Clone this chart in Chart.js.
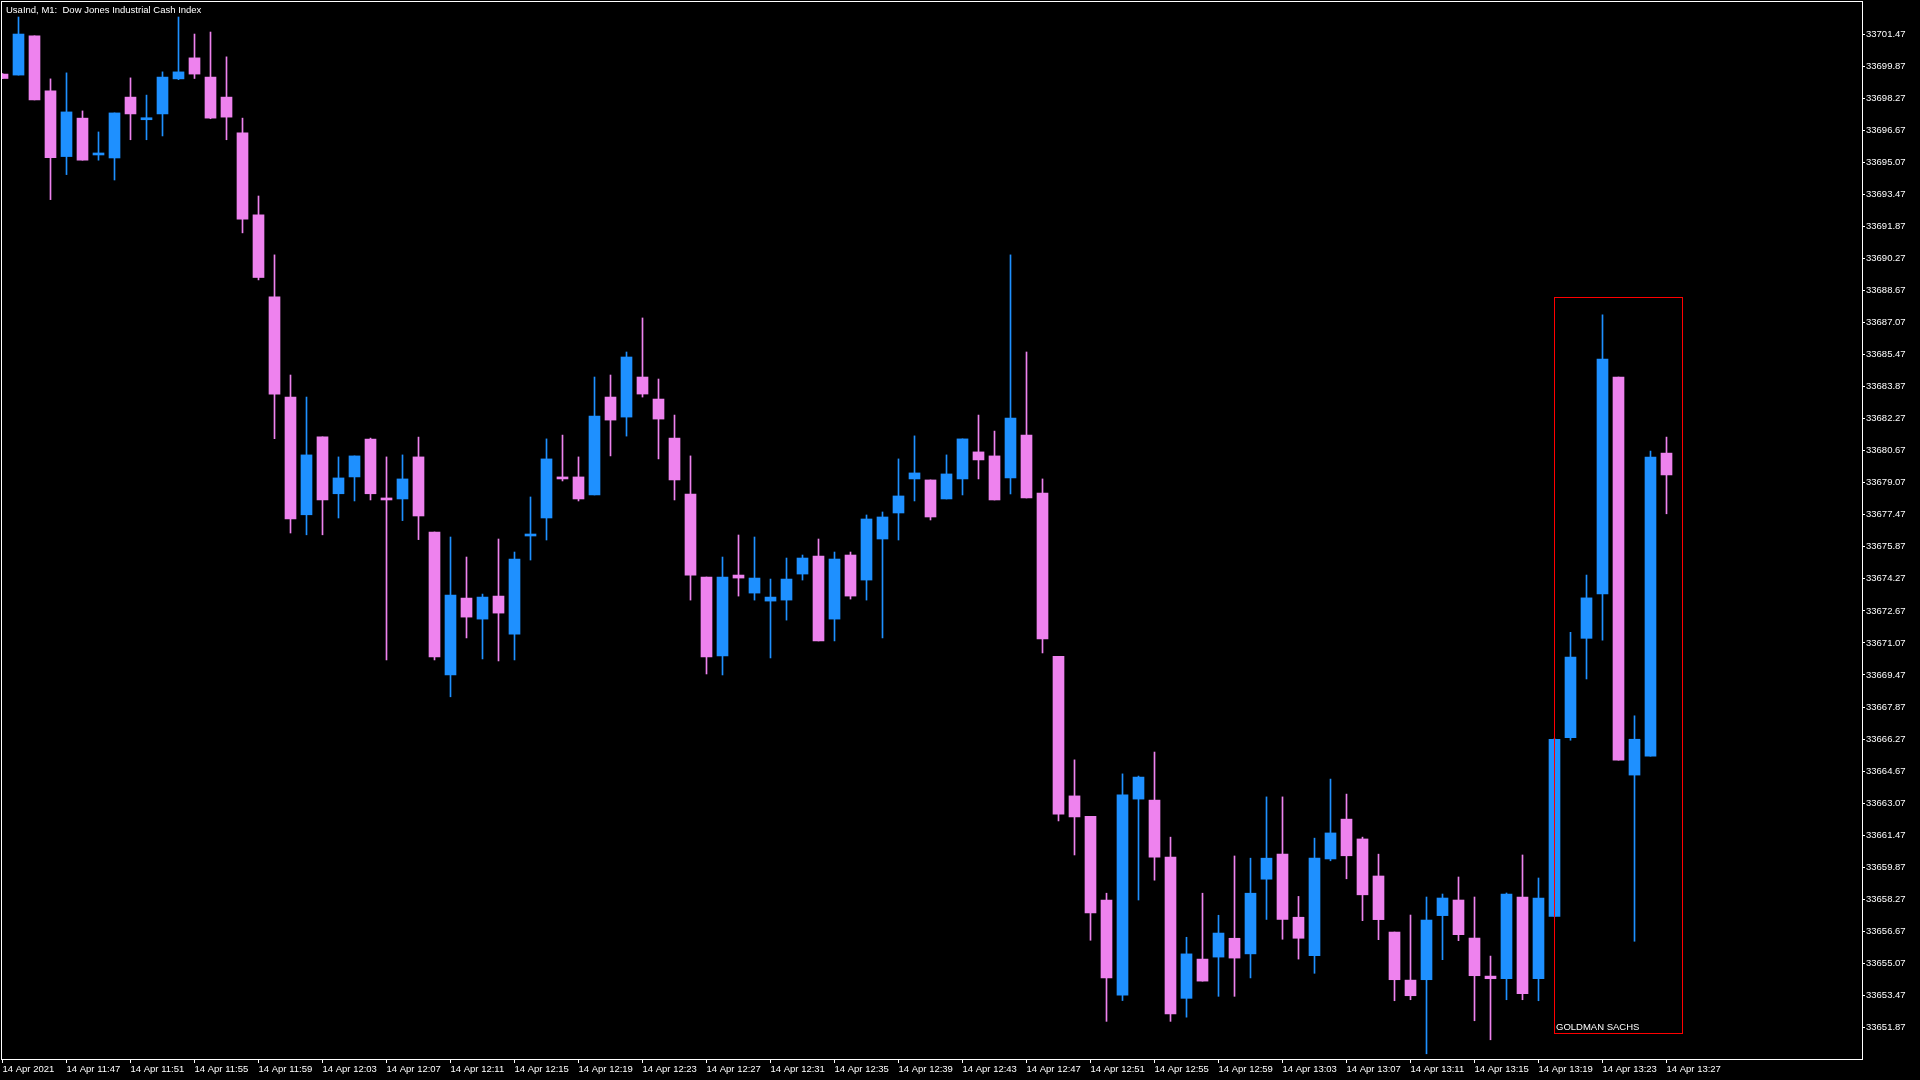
<!DOCTYPE html>
<html><head><meta charset="utf-8">
<script src="https://cdn.jsdelivr.net/npm/chart.js@4.4.1/dist/chart.umd.min.js"></script>
<style>html,body{margin:0;padding:0;background:#000;overflow:hidden}canvas{display:block}</style>
</head><body>
<canvas id="c" width="1920" height="1080"></canvas>
<script>
const opens = [33699.48,33699.43,33701.39,33698.64,33695.36,33697.28,33695.44,33695.29,33698.33,33697.20,
33697.49,33699.24,33700.29,33699.33,33698.33,33696.54,33692.45,33688.35,33683.35,33677.47,
33681.36,33678.52,33679.36,33681.25,33678.31,33678.26,33680.36,33676.61,33669.47,33673.31,
33672.26,33673.41,33671.51,33676.41,33677.31,33679.36,33679.36,33678.46,33683.35,33682.35,
33684.35,33683.25,33681.30,33678.51,33674.36,33670.42,33674.46,33673.56,33673.16,33673.21,
33674.51,33675.41,33672.26,33675.46,33674.21,33676.26,33677.56,33679.26,33679.21,33678.26,
33679.26,33680.61,33680.41,33679.31,33681.45,33678.56,33670.40,33663.43,33662.41,33658.23,
33653.48,33663.27,33663.22,33660.37,33653.32,33655.28,33655.38,33656.32,33655.54,33659.27,
33660.53,33657.37,33655.45,33660.28,33662.27,33661.28,33659.43,33656.63,33654.23,33654.25,
33657.45,33658.23,33656.33,33654.43,33654.30,33658.38,33654.30,33657.41,33666.34,33671.30,
33673.52,33684.35,33664.47,33665.41,33680.55];
const highs = [33699.50,33702.33,33701.39,33699.24,33699.54,33697.64,33696.59,33697.54,33699.29,33698.43,
33699.59,33702.33,33701.48,33701.58,33700.34,33697.28,33693.39,33690.45,33684.45,33683.35,
33681.36,33680.36,33680.41,33681.30,33680.36,33680.46,33681.35,33676.61,33676.36,33675.36,
33673.51,33676.26,33675.61,33678.36,33681.26,33681.45,33680.36,33684.35,33684.45,33685.60,
33687.30,33684.25,33682.45,33680.41,33674.36,33675.36,33676.46,33676.36,33674.26,33675.31,
33675.46,33676.26,33675.61,33675.61,33677.46,33677.61,33680.26,33681.41,33679.21,33680.46,
33681.26,33682.45,33681.65,33690.45,33685.60,33679.26,33670.40,33665.23,33662.41,33658.57,
33664.53,33664.42,33665.62,33661.37,33656.37,33658.57,33657.47,33660.43,33660.32,33663.38,
33663.38,33658.41,33661.32,33664.27,33663.52,33661.37,33660.52,33656.63,33657.48,33658.38,
33658.53,33659.38,33658.38,33655.43,33658.58,33660.48,33659.33,33666.30,33671.60,33674.46,
33687.46,33684.35,33667.43,33680.65,33681.35];
const lows = [33699.25,33699.43,33698.19,33693.21,33694.46,33695.18,33695.18,33694.19,33696.20,33696.20,
33696.39,33699.20,33699.26,33697.25,33696.20,33691.55,33689.20,33681.27,33676.56,33676.47,
33676.47,33677.31,33678.16,33678.21,33670.22,33677.18,33676.23,33670.22,33668.38,33671.32,
33670.27,33670.17,33670.22,33675.21,33676.21,33679.16,33678.16,33678.46,33680.41,33681.40,
33683.35,33680.26,33678.21,33673.21,33669.52,33669.47,33673.41,33673.21,33670.32,33672.21,
33674.21,33671.17,33671.17,33673.26,33673.21,33671.32,33676.21,33678.16,33677.21,33678.26,
33678.46,33679.26,33678.21,33678.51,33678.31,33670.57,33662.18,33660.48,33656.22,33652.17,
33653.21,33658.23,33659.22,33652.17,33652.38,33654.18,33653.42,33653.42,33654.34,33657.26,
33656.27,33655.28,33654.57,33660.19,33659.29,33657.20,33656.25,33653.20,33653.25,33650.55,
33655.25,33656.20,33652.20,33651.25,33653.25,33653.25,33653.20,33657.40,33666.21,33669.27,
33671.21,33665.22,33656.17,33665.41,33677.52];
const closes = [33699.26,33701.48,33698.19,33695.30,33697.59,33695.18,33695.54,33697.54,33697.49,33697.28,
33699.33,33699.59,33699.48,33697.28,33697.33,33692.24,33689.32,33683.50,33677.26,33680.46,
33678.21,33679.31,33680.41,33678.52,33678.21,33679.26,33677.41,33670.37,33673.46,33672.36,
33673.36,33672.56,33675.26,33676.51,33680.26,33679.26,33678.26,33682.40,33682.20,33685.35,
33683.50,33682.25,33679.21,33674.46,33670.37,33674.36,33674.31,33674.31,33673.36,33674.26,
33675.31,33671.17,33675.26,33673.41,33677.26,33677.36,33678.41,33679.56,33677.36,33679.51,
33681.26,33680.21,33678.21,33682.30,33678.31,33671.27,33662.52,33662.38,33657.58,33654.34,
33663.48,33664.37,33660.37,33652.54,33655.54,33654.18,33656.58,33655.33,33658.57,33660.32,
33657.26,33656.32,33660.33,33661.58,33660.44,33658.49,33657.25,33654.25,33653.45,33657.23,
33658.33,33656.50,33654.45,33654.30,33658.53,33653.55,33658.33,33666.26,33670.36,33673.32,
33685.25,33665.22,33666.26,33680.35,33679.46];

const xTickIdx = [0,4,8,12,16,20,24,28,32,36,40,44,48,52,56,60,64,68,72,76,80,84,88,92,96,100,104];
const xTickLabels = ['14 Apr 2021','14 Apr 11:47','14 Apr 11:51','14 Apr 11:55','14 Apr 11:59','14 Apr 12:03',
'14 Apr 12:07','14 Apr 12:11','14 Apr 12:15','14 Apr 12:19','14 Apr 12:23','14 Apr 12:27','14 Apr 12:31',
'14 Apr 12:35','14 Apr 12:39','14 Apr 12:43','14 Apr 12:47','14 Apr 12:51','14 Apr 12:55','14 Apr 12:59',
'14 Apr 13:03','14 Apr 13:07','14 Apr 13:11','14 Apr 13:15','14 Apr 13:19','14 Apr 13:23','14 Apr 13:27'];
const yTicks = [33651.87,33653.47,33655.07,33656.67,33658.27,33659.87,33661.47,33663.07,33664.67,33666.27,
33667.87,33669.47,33671.07,33672.67,33674.27,33675.87,33677.47,33679.07,33680.67,33682.27,33683.87,
33685.47,33687.07,33688.67,33690.27,33691.87,33693.47,33695.07,33696.67,33698.27,33699.87,33701.47];

const chartTitle = 'UsaInd, M1:  Dow Jones Industrial Cash Index';
const boxLabel = 'GOLDMAN SACHS';
const boxStartIdx = 97, boxEndIdx = 105;
const boxTop = 33688.33, boxBottom = 33651.57;

const UP = '#1E90FF', DOWN = '#EE82EE';
const FONT = 'Liberation Sans';
const colors = closes.map((c, i) => c >= opens[i] ? UP : DOWN);
const bodyData = opens.map((o, i) => ({x: i, y: [o, closes[i]]}));
const wickData = lows.map((l, i) => ({x: i, y: [l, highs[i]]}));

const bgPlugin = {
  id: 'bg',
  beforeDraw(chart) {
    const c = chart.ctx;
    c.save(); c.fillStyle = '#000'; c.fillRect(0, 0, chart.width, chart.height); c.restore();
  },
  afterDraw(chart) {
    const c = chart.ctx, a = chart.chartArea;
    const xs = chart.scales.x, ys = chart.scales.y;
    c.save();
    c.strokeStyle = '#ffffff'; c.lineWidth = 1;
    c.strokeRect(Math.round(a.left) - 0.5, Math.round(a.top) - 0.5,
      Math.round(a.right - a.left) + 1, Math.round(a.bottom - a.top) + 1);
    c.fillStyle = '#ffffff';
    c.font = '9.5px "' + FONT + '"';
    c.textBaseline = 'alphabetic'; c.textAlign = 'left';
    c.fillText(chartTitle, 6, 13);
    const x1 = Math.round(xs.getPixelForValue(boxStartIdx)) - 0.5;
    const x2 = Math.round(xs.getPixelForValue(boxEndIdx)) - 0.5;
    const y1 = Math.round(ys.getPixelForValue(boxTop)) + 0.5;
    const y2 = Math.round(ys.getPixelForValue(boxBottom)) + 0.5;
    c.strokeStyle = '#ff0000';
    c.strokeRect(x1, y1, x2 - x1, y2 - y1);
    c.fillStyle = '#ffffff';
    c.fillText(boxLabel, x1 + 1.5, y2 - 4);
    c.restore();
  }
};

new Chart(document.getElementById('c').getContext('2d'), {
  type: 'bar',
  data: {
    datasets: [
      {label: 'wick', data: wickData, backgroundColor: colors, barThickness: 1, grouped: false, order: 2, minBarLength: 1},
      {label: 'body', data: bodyData, backgroundColor: colors, barThickness: 11, grouped: false, order: 1, minBarLength: 2}
    ]
  },
  options: {
    responsive: false, animation: false, devicePixelRatio: 1,
    layout: {padding: {left: 2, top: 2, right: 0, bottom: 0}},
    plugins: {legend: {display: false}, tooltip: {enabled: false}, title: {display: false}},
    scales: {
      x: {
        type: 'linear', position: 'bottom', min: -0.03125, max: 116.21875, offset: false,
        grid: {drawOnChartArea: false, drawTicks: true, tickLength: 4, color: '#ffffff', offset: false},
        border: {display: false},
        ticks: {
          autoSkip: false, maxRotation: 0, minRotation: 0, align: 'start', labelOffset: 0, padding: 1,
          color: '#ffffff', font: {family: FONT, size: 9.5},
          callback: (v) => { const k = xTickIdx.indexOf(v); return k < 0 ? '' : xTickLabels[k]; }
        },
        afterBuildTicks: (s) => { s.ticks = xTickIdx.map(v => ({value: v})); },
        afterFit: (s) => { s.height = 21; s.paddingLeft = 0; s.paddingRight = 0; }
      },
      y: {
        type: 'linear', position: 'right', min: 33650.29, max: 33703.08,
        grid: {drawOnChartArea: false, drawTicks: true, tickLength: 3, color: '#ffffff'},
        border: {display: false},
        ticks: {
          padding: 1, color: '#ffffff', font: {family: FONT, size: 9.5},
          callback: (v) => Number(v).toFixed(2)
        },
        afterBuildTicks: (s) => { s.ticks = yTicks.map(v => ({value: v})); },
        afterFit: (s) => { s.width = 58; s.paddingTop = 0; s.paddingBottom = 0; }
      }
    }
  },
  plugins: [bgPlugin]
});
</script>
</body></html>
